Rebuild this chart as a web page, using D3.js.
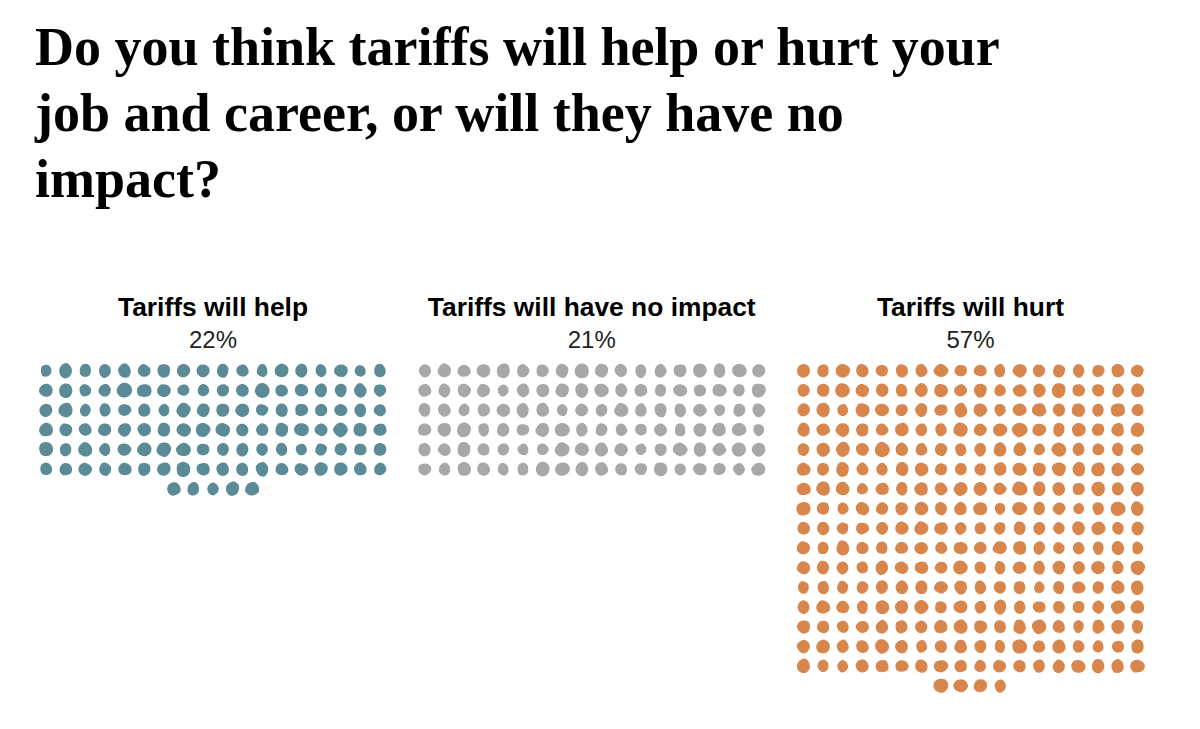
<!DOCTYPE html>
<html>
<head>
<meta charset="utf-8">
<script src="https://cdn.jsdelivr.net/npm/d3@7"></script>
<style>
  body { margin: 0; background: #fff; }
  svg { display: block; }
</style>
</head>
<body>
<div id="chart"></div>
<script>
// Chart data
const titleLines = [
  "Do you think tariffs will help or hurt your",
  "job and career, or will they have no",
  "impact?"
];
const categories = ["Tariffs will help", "Tariffs will have no impact", "Tariffs will hurt"];
const percentLabels = ["22%", "21%", "57%"];
const dotCounts = [113, 108, 292];

// Styling
const palette = ["#5b8b97", "#a8a8a8", "#d9864c"];
const width = 1200, height = 729;
const perRow = 18;

const svg = d3.select('#chart')
  .append('svg')
  .attr('width', width)
  .attr('height', height);

// Title, sized so the first line spans the same width as the original
const title = svg.append('g');
title.selectAll('text')
  .data(titleLines)
  .enter()
  .append('text')
  .attr('x', 35)
  .attr('y', (d, i) => 65 + i * 66)
  .style('font-family', '"Liberation Serif", "Times New Roman", serif')
  .style('font-weight', 700)
  .style('font-size', '50px')
  .style('fill', '#000')
  .text(d => d);

const firstLen = title.select('text').node().getComputedTextLength();
title.selectAll('text').style('font-size', (50 * 965 / firstLen) + 'px');

// One column of the layout per category
const groupX = d3.scalePoint()
  .domain(categories)
  .range([213, 970.5]);

const col = d3.scaleLinear().domain([0, perRow - 1]).range([-167, 167]);
const row = d3.scaleLinear().domain([0, 1]).range([370.7, 390.4]);

// Category headers
const headers = svg.selectAll('.header')
  .data(categories)
  .enter()
  .append('text')
  .attr('class', 'header')
  .attr('x', d => groupX(d))
  .attr('y', 316)
  .attr('text-anchor', 'middle')
  .style('font-family', '"Liberation Sans", Arial, sans-serif')
  .style('font-weight', 700)
  .style('font-size', '24px')
  .style('fill', '#000')
  .text(d => d);

const midLen = headers.filter((d, i) => i === 1).node().getComputedTextLength();
headers.style('font-size', (24 * 328 / midLen) + 'px');

svg.selectAll('.pct')
  .data(percentLabels)
  .enter()
  .append('text')
  .attr('class', 'pct')
  .attr('x', (d, i) => groupX(categories[i]))
  .attr('y', 348)
  .attr('text-anchor', 'middle')
  .style('font-family', '"Liberation Sans", Arial, sans-serif')
  .style('font-size', '24px')
  .style('fill', '#222')
  .text(d => d);

// Hand-drawn looking dots: fixed seed, only used for shape wobble
const rng = d3.randomLcg(0.4172);
const blob = d3.lineRadial().curve(d3.curveCatmullRomClosed);

function blobPath() {
  const base = 6.1 + rng() * 1.0;
  const sx = 0.84 + rng() * 0.24;
  const sy = 0.92 + rng() * 0.14;
  const rot = rng() * Math.PI * 2;
  const pts = d3.range(8).map(k => {
    const a = rot + k * Math.PI / 4;
    const r = base * (0.93 + rng() * 0.14);
    return [a, r];
  });
  // squash radially into an egg/oval
  return blob(pts.map(([a, r]) => {
    const x = Math.sin(a) * r * sx, y = -Math.cos(a) * r * sy;
    return [Math.atan2(x, -y), Math.hypot(x, y)];
  }));
}

categories.forEach((cat, gi) => {
  const n = dotCounts[gi];
  const fullRows = Math.floor(n / perRow);
  const rest = n % perRow;
  const dots = d3.range(n).map(i => {
    const r = Math.floor(i / perRow);
    const c = i % perRow;
    // leftover dots sit centred under the grid
    const cc = r < fullRows ? c : c + (perRow - rest) / 2;
    return { r, c: cc };
  });

  svg.append('g')
    .attr('transform', `translate(${groupX(cat)},0)`)
    .selectAll('path')
    .data(dots)
    .enter()
    .append('path')
    .attr('transform', d => `translate(${col(d.c)},${row(d.r)})`)
    .attr('d', () => blobPath())
    .attr('fill', palette[gi]);
});
</script>
</body>
</html>
